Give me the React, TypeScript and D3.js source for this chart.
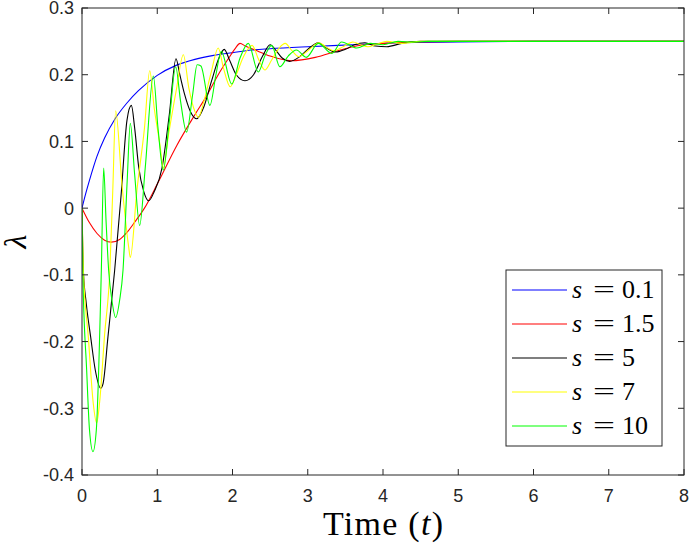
import React from "react";
import * as d3 from "d3";

// ---- data ----
const xTickValues = [0, 1, 2, 3, 4, 5, 6, 7, 8];
const xTickLabels = ["0", "1", "2", "3", "4", "5", "6", "7", "8"];
const yTickValues = [-0.4, -0.3, -0.2, -0.1, 0, 0.1, 0.2, 0.3];
const yTickLabels = ["-0.4", "-0.3", "-0.2", "-0.1", "0", "0.1", "0.2", "0.3"];

const seriesNames = ["0.1", "1.5", "5", "7", "10"];
const seriesColors = ["#0000ff", "#ff0000", "#000000", "#ffff00", "#00ff00"];

const timeS01 = [0, 0.05, 0.1, 0.2, 0.3, 0.44, 0.6, 0.75, 1.0, 1.25, 1.5, 1.75, 2.0, 2.25, 2.5, 3.0, 3.6, 4.2, 5.0, 6.0, 7.0, 8.0];
const lambdaS01 = [0, 0.022, 0.042, 0.078, 0.105, 0.134, 0.158, 0.176, 0.199, 0.214, 0.223, 0.229, 0.233, 0.237, 0.239, 0.242, 0.245, 0.248, 0.249, 0.25, 0.25, 0.25];

const timeS15 = [0, 0.1, 0.2, 0.3, 0.39, 0.5, 0.6, 0.7, 0.83, 1.0, 1.26, 1.5, 1.66, 1.81, 1.95, 2.04, 2.1, 2.17, 2.3, 2.5, 2.78, 3.1, 3.4, 3.6, 4.0, 4.4, 5.0, 6.0, 8.0];
const lambdaS15 = [0, -0.022, -0.038, -0.048, -0.051, -0.047, -0.036, -0.021, 0.0, 0.036, 0.094, 0.14, 0.169, 0.2, 0.225, 0.24, 0.247, 0.243, 0.237, 0.228, 0.221, 0.226, 0.236, 0.242, 0.247, 0.249, 0.25, 0.25, 0.25];

const timeS5 = [0, 0.018, 0.057, 0.115, 0.177, 0.248, 0.28, 0.345, 0.434, 0.52, 0.598, 0.656, 0.7, 0.753, 0.82, 0.886, 0.96, 1.063, 1.16, 1.249, 1.3, 1.36, 1.44, 1.524, 1.62, 1.72, 1.82, 1.89, 1.96, 2.05, 2.166, 2.28, 2.4, 2.5, 2.58, 2.66, 2.76, 2.88, 3.0, 3.14, 3.25, 3.37, 3.5, 3.62, 3.76, 3.9, 4.05, 4.25, 4.5, 5.0, 8.0];
const lambdaS5 = [0, -0.093, -0.143, -0.193, -0.243, -0.27, -0.263, -0.193, -0.093, 0.02, 0.132, 0.154, 0.12, 0.062, 0.025, 0.011, 0.025, 0.06, 0.14, 0.224, 0.2, 0.172, 0.145, 0.134, 0.152, 0.19, 0.225, 0.238, 0.222, 0.2, 0.191, 0.2, 0.228, 0.245, 0.236, 0.225, 0.22, 0.226, 0.238, 0.248, 0.24, 0.234, 0.238, 0.245, 0.248, 0.243, 0.242, 0.247, 0.25, 0.25, 0.25];

const timeS7 = [0, 0.018, 0.084, 0.15, 0.195, 0.235, 0.3, 0.37, 0.41, 0.447, 0.53, 0.62, 0.642, 0.73, 0.83, 0.9, 0.96, 1.037, 1.08, 1.15, 1.25, 1.347, 1.42, 1.5, 1.546, 1.62, 1.72, 1.81, 1.88, 1.97, 2.05, 2.15, 2.26, 2.35, 2.43, 2.52, 2.62, 2.7, 2.79, 2.88, 3.0, 3.15, 3.25, 3.35, 3.47, 3.6, 3.7, 3.8, 3.92, 4.05, 4.25, 4.5, 5.0, 8.0];
const lambdaS7 = [0, -0.093, -0.193, -0.293, -0.322, -0.29, -0.19, -0.093, 0.03, 0.146, 0.037, -0.058, -0.074, 0.027, 0.12, 0.206, 0.15, 0.094, 0.06, 0.11, 0.175, 0.23, 0.18, 0.145, 0.136, 0.16, 0.205, 0.24, 0.21, 0.182, 0.2, 0.228, 0.244, 0.222, 0.207, 0.222, 0.24, 0.247, 0.236, 0.227, 0.236, 0.248, 0.241, 0.236, 0.242, 0.249, 0.245, 0.242, 0.246, 0.25, 0.247, 0.25, 0.25, 0.25];

const timeS10 = [0, 0.01, 0.062, 0.1, 0.146, 0.19, 0.257, 0.288, 0.32, 0.354, 0.4, 0.447, 0.5, 0.545, 0.6, 0.642, 0.7, 0.766, 0.84, 0.948, 1.01, 1.08, 1.16, 1.245, 1.31, 1.39, 1.47, 1.53, 1.58, 1.7, 1.78, 1.85, 1.99, 2.1, 2.21, 2.343, 2.43, 2.52, 2.63, 2.74, 2.85, 2.98, 3.14, 3.32, 3.45, 3.65, 3.83, 4.0, 4.2, 4.4, 4.6, 5.0, 8.0];
const lambdaS10 = [0, -0.093, -0.243, -0.333, -0.365, -0.333, -0.093, 0.06, -0.02, -0.093, -0.14, -0.164, -0.138, -0.093, 0.04, 0.127, 0.05, -0.026, 0.06, 0.198, 0.12, 0.057, 0.13, 0.212, 0.16, 0.114, 0.17, 0.215, 0.213, 0.154, 0.2, 0.235, 0.186, 0.225, 0.247, 0.204, 0.228, 0.244, 0.212, 0.228, 0.237, 0.226, 0.247, 0.232, 0.249, 0.24, 0.247, 0.245, 0.25, 0.249, 0.25, 0.25, 0.25];

const seriesTimes = [timeS01, timeS15, timeS5, timeS7, timeS10];
const seriesLambdas = [lambdaS01, lambdaS15, lambdaS5, lambdaS7, lambdaS10];

// ---- layout ----
const W = 692;
const H = 547;
const left = 82;
const right = 684;
const top = 8;
const bottom = 475;
const axisColor = "#262626";
const tickLen = 6;

export default function App() {
  const x = d3.scaleLinear().domain([0, 8]).range([left, right]);
  const y = d3.scaleLinear().domain([-0.4, 0.3]).range([bottom, top]);

  const line = d3
    .line<[number, number]>()
    .x((d) => x(d[0]))
    .y((d) => y(d[1]))
    .curve(d3.curveMonotoneX);

  const legendX = 506;
  const legendY = 270;
  const legendW = 156;
  const legendH = 176;
  const rowH = 34;

  return (
    <svg
      width={W}
      height={H}
      viewBox={`0 0 ${W} ${H}`}
      style={{ position: "absolute", left: 0, top: 0, background: "#fff" }}
    >
      <rect x={0} y={0} width={W} height={H} fill="#fff" />
      <defs>
        <clipPath id="plotClip">
          <rect x={left} y={top} width={right - left} height={bottom - top} />
        </clipPath>
      </defs>

      {/* curves */}
      <g clipPath="url(#plotClip)">
        {seriesTimes.map((ts, i) => {
          const pts = ts.map((t, j) => [t, seriesLambdas[i][j]] as [number, number]);
          return (
            <path
              key={i}
              d={line(pts) || ""}
              fill="none"
              stroke={seriesColors[i]}
              strokeWidth={1.1}
              strokeLinejoin="round"
            />
          );
        })}
      </g>

      {/* axes box */}
      <rect
        x={left}
        y={top}
        width={right - left}
        height={bottom - top}
        fill="none"
        stroke={axisColor}
        strokeWidth={1}
      />

      {/* x ticks */}
      {xTickValues.map((v, i) => (
        <g key={"xt" + i}>
          <line x1={x(v)} x2={x(v)} y1={bottom} y2={bottom - tickLen} stroke={axisColor} />
          <line x1={x(v)} x2={x(v)} y1={top} y2={top + tickLen} stroke={axisColor} />
          <text
            x={x(v)}
            y={502}
            textAnchor="middle"
            fontFamily="'Liberation Sans', Arial, sans-serif"
            fontSize={18}
            fill={axisColor}
          >
            {xTickLabels[i]}
          </text>
        </g>
      ))}

      {/* y ticks */}
      {yTickValues.map((v, i) => (
        <g key={"yt" + i}>
          <line x1={left} x2={left + tickLen} y1={y(v)} y2={y(v)} stroke={axisColor} />
          <line x1={right} x2={right - tickLen} y1={y(v)} y2={y(v)} stroke={axisColor} />
          <text
            x={left - 8}
            y={y(v)}
            dy="0.36em"
            textAnchor="end"
            fontFamily="'Liberation Sans', Arial, sans-serif"
            fontSize={18}
            fill={axisColor}
          >
            {yTickLabels[i]}
          </text>
        </g>
      ))}

      {/* axis labels */}
      <text
        x={(left + right) / 2}
        y={535}
        textAnchor="middle"
        fontFamily="'Liberation Serif', 'Times New Roman', serif"
        fontSize={34}
        fill="#000"
        textLength={120}
        lengthAdjust="spacing"
      >
        Time (<tspan fontStyle="italic">t</tspan>)
      </text>
      <text
        transform={`translate(26, ${(top + bottom) / 2}) rotate(-90)`}
        textAnchor="middle"
        fontFamily="'Liberation Serif', 'Times New Roman', serif"
        fontStyle="italic"
        fontSize={32}
        fill="#000"
      >
        λ
      </text>

      {/* legend */}
      <rect
        x={legendX}
        y={legendY}
        width={legendW}
        height={legendH}
        fill="#fff"
        stroke={axisColor}
        strokeWidth={1}
      />
      {seriesNames.map((name, i) => {
        const cy = legendY + 20 + i * rowH;
        return (
          <g key={"lg" + i}>
            <line x1={512} x2={567} y1={cy} y2={cy} stroke={seriesColors[i]} strokeWidth={1.1} />
            <text
              y={cy + 8}
              fontFamily="'Liberation Serif', 'Times New Roman', serif"
              fontSize={26}
              fill="#000"
            >
              <tspan x={572} fontStyle="italic">s</tspan>
              <tspan x={593} textLength={22} lengthAdjust="spacingAndGlyphs">=</tspan>
              <tspan x={622}>{name}</tspan>
            </text>
          </g>
        );
      })}
    </svg>
  );
}
